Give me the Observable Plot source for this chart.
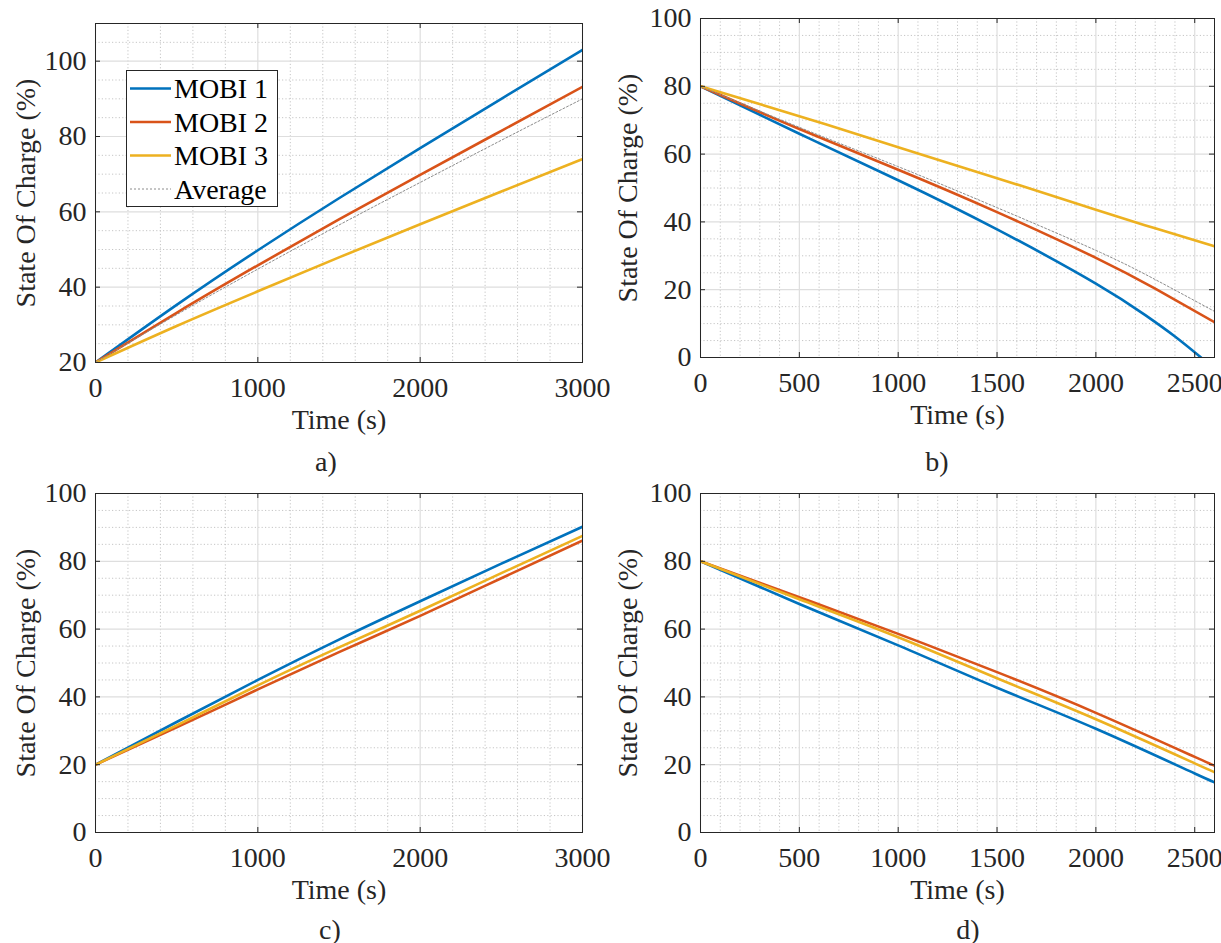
<!DOCTYPE html>
<html>
<head>
<meta charset="utf-8">
<script src="https://cdn.jsdelivr.net/npm/d3@7"></script>
<script src="https://cdn.jsdelivr.net/npm/@observablehq/plot@0.6"></script>
<style>
  html, body { margin: 0; padding: 0; background: #fff; overflow: hidden; }
  #root { position: relative; width: 1221px; height: 943px; font-family: "Liberation Serif", "Times New Roman", serif; color: #262626; }
  .panel { position: absolute; }
  .panel svg { overflow: visible; font-family: "Liberation Serif", "Times New Roman", serif !important; }
  .panel svg text { font-family: "Liberation Serif", "Times New Roman", serif !important; font-size: 28px; }
  .cap { position: absolute; font-size: 28px; line-height: 1; transform: translate(-50%, -50%); white-space: nowrap; }
  #legend { position: absolute; left: 0; top: 0; overflow: visible; }
</style>
</head>
<body>
<div id="root"></div>
<script>
// ---------- Legend ----------
const seriesNames = ["MOBI 1", "MOBI 2", "MOBI 3", "Average"];
const seriesColors = ["#0072BD", "#D95319", "#EDB120", "#8c8c8c"];

// ---------- Panel a) charging ----------
const timeA   = [0, 500, 1000, 1500, 2000, 2500, 3000];
const mobi1A  = [20, 35.3, 49.8, 63.6, 76.9, 90.0, 103.0];
const mobi2A  = [20, 33.2, 45.8, 58.0, 69.8, 81.5, 93.2];
const mobi3A  = [20, 29.7, 38.9, 47.9, 56.7, 65.4, 74.0];
const averageA= [20, 32.7, 44.8, 56.5, 67.8, 79.0, 90.0];

// ---------- Panel b) discharging ----------
const timeB1  = [0, 500, 1000, 1500, 2000, 2250, 2400, 2532];
const mobi1B  = [80, 66.0, 52.3, 37.8, 21.8, 12.5, 6.2, 0];
const timeB   = [0, 500, 1000, 1500, 2000, 2300, 2600];
const mobi2B  = [80, 67.4, 55.4, 42.9, 29.4, 20.3, 10.4];
const mobi3B  = [80, 71.2, 62.0, 52.9, 43.6, 38.1, 32.8];
const averageB= [80, 67.9, 56.3, 44.2, 31.6, 23.0, 13.6];

// ---------- Panel c) charging ----------
const timeC   = [0, 500, 1000, 1500, 2000, 2500, 3000];
const mobi1C  = [20, 32.6, 45.0, 56.9, 68.2, 79.3, 90.2];
const mobi2C  = [20, 31.0, 42.2, 53.2, 63.9, 75.0, 86.1];
const mobi3C  = [20, 31.6, 43.4, 54.6, 65.4, 76.5, 87.5];

// ---------- Panel d) discharging ----------
const timeD   = [0, 500, 1000, 1500, 2000, 2500, 2600];
const mobi1D  = [80, 67.4, 55.2, 42.7, 30.6, 17.4, 14.9];
const mobi2D  = [80, 69.4, 58.6, 47.3, 35.3, 22.3, 19.7];
const mobi3D  = [80, 68.8, 57.6, 45.5, 33.4, 20.4, 17.8];

// ---------- Tick values ----------
const xTicks3000 = [0, 1000, 2000, 3000];
const xTicks2600 = [0, 500, 1000, 1500, 2000, 2500];
const yTicksA = [20, 40, 60, 80, 100];
const yTicks100 = [0, 20, 40, 60, 80, 100];

const xLabel = "Time (s)";
const yLabel = "State Of Charge (%)";
const captions = ["a)", "b)", "c)", "d)"];

const axisColor = "#262626";
const fontFamily = "Liberation Serif";

function minorTicks(lo, hi, step, majors) {
  return d3.range(lo, hi + 1e-9, step).filter(v => !majors.includes(v));
}

function panel(cfg) {
  const {width, height, mt, mr, mb, ml, xDomain, yDomain, xTicks, yTicks, xStep, yStep, series, yLabelDx} = cfg;
  const fw = width - ml - mr, fh = height - mt - mb;
  const tickLen = 5;
  const xMinor = minorTicks(xDomain[0], xDomain[1], xStep, xTicks);
  const yMinor = minorTicks(yDomain[0], yDomain[1], yStep, yTicks);
  const txt = {fontFamily, fontSize: 28, fill: axisColor};
  return Plot.plot({
    width, height,
    marginTop: mt, marginRight: mr, marginBottom: mb, marginLeft: ml,
    style: {fontFamily, fontSize: "28px", color: axisColor, background: "white", overflow: "visible"},
    x: {domain: xDomain},
    y: {domain: yDomain},
    marks: [
      Plot.gridX(xMinor, {stroke: "#bfbfbf", strokeOpacity: 1, strokeWidth: 0.9, strokeDasharray: "1.2,2.2"}),
      Plot.gridY(yMinor, {stroke: "#bfbfbf", strokeOpacity: 1, strokeWidth: 0.9, strokeDasharray: "1.2,2.2"}),
      Plot.gridX(xTicks, {stroke: "#dedede", strokeOpacity: 1, strokeWidth: 1.2}),
      Plot.gridY(yTicks, {stroke: "#dedede", strokeOpacity: 1, strokeWidth: 1.2}),
      ...series.map(s => Plot.line(s.y, {
        x: s.x, y: s.y, stroke: s.color, strokeWidth: s.width,
        strokeDasharray: s.dash, curve: "natural", clip: true
      })),
      Plot.frame({stroke: axisColor, strokeWidth: 1}),
      Plot.ruleX(xTicks, {insetTop: fh - tickLen, stroke: axisColor}),
      Plot.ruleX(xTicks, {insetBottom: fh - tickLen, stroke: axisColor}),
      Plot.ruleY(yTicks, {insetRight: fw - tickLen, stroke: axisColor}),
      Plot.ruleY(yTicks, {insetLeft: fw - tickLen, stroke: axisColor}),
      Plot.axisX(xTicks, {tickSize: 0, tickPadding: 15, label: null, tickFormat: d => String(d), ...txt}),
      Plot.axisY(yTicks, {tickSize: 0, tickPadding: 9, label: null, tickFormat: d => String(d), ...txt}),
      Plot.text([xLabel], {text: d => d, frameAnchor: "bottom", dy: 58, lineAnchor: "middle", ...txt}),
      Plot.text([yLabel], {text: d => d, frameAnchor: "left", dx: yLabelDx, rotate: -90, textAnchor: "middle", lineAnchor: "middle", ...txt})
    ]
  });
}

function mobiSeries(x, ys, withAvg) {
  const out = ys.slice(0, 3).map((y, i) => ({x: x[i], y, color: seriesColors[i], width: 2.6}));
  if (withAvg) out.push({x: x[3], y: ys[3], color: seriesColors[3], width: 1, dash: "2,2"});
  return out;
}

const root = document.getElementById("root");
function place(el, left, top) {
  const d = document.createElement("div");
  d.className = "panel";
  d.style.left = left + "px";
  d.style.top = top + "px";
  d.appendChild(el);
  root.appendChild(d);
}

// a)
place(panel({
  width: 610, height: 470, mt: 23, mr: 28, mb: 108, ml: 95,
  xDomain: [0, 3000], yDomain: [20, 110], xTicks: xTicks3000, yTicks: yTicksA, xStep: 200, yStep: 5,
  series: mobiSeries([timeA, timeA, timeA, timeA], [mobi1A, mobi2A, mobi3A, averageA], true),
  yLabelDx: -69
}), 0, 0);

// b)
place(panel({
  width: 611, height: 470, mt: 18, mr: 7, mb: 113, ml: 90,
  xDomain: [0, 2600], yDomain: [0, 100], xTicks: xTicks2600, yTicks: yTicks100, xStep: 100, yStep: 5,
  series: mobiSeries([timeB1, timeB, timeB, timeB], [mobi1B, mobi2B, mobi3B, averageB], true),
  yLabelDx: -72
}), 610, 0);

// c)
place(panel({
  width: 610, height: 473, mt: 23, mr: 28, mb: 111, ml: 95,
  xDomain: [0, 3000], yDomain: [0, 100], xTicks: xTicks3000, yTicks: yTicks100, xStep: 200, yStep: 5,
  series: mobiSeries([timeC, timeC, timeC], [mobi1C, mobi2C, mobi3C], false),
  yLabelDx: -69
}), 0, 470);

// d)
place(panel({
  width: 611, height: 473, mt: 23, mr: 7, mb: 111, ml: 90,
  xDomain: [0, 2600], yDomain: [0, 100], xTicks: xTicks2600, yTicks: yTicks100, xStep: 100, yStep: 5,
  series: mobiSeries([timeD, timeD, timeD], [mobi1D, mobi2D, mobi3D], false),
  yLabelDx: -72
}), 610, 470);

// Captions
const capPos = [[326, 462], [937, 462], [330, 930], [968, 930]];
captions.forEach((c, i) => {
  const d = document.createElement("div");
  d.className = "cap";
  d.textContent = c;
  d.style.left = capPos[i][0] + "px";
  d.style.top = capPos[i][1] + "px";
  root.appendChild(d);
});

// Legend (panel a)
const leg = d3.select(root).append("svg").attr("id", "legend").attr("width", 300).attr("height", 220);
leg.append("rect").attr("x", 126.5).attr("y", 70.5).attr("width", 151).attr("height", 136)
  .attr("fill", "white").attr("stroke", axisColor).attr("stroke-width", 1);
const rows = leg.selectAll("g.row").data(seriesNames).join("g").attr("class", "row")
  .attr("transform", (d, i) => `translate(0, ${88.5 + i * 33.5})`);
rows.append("line").attr("x1", 130).attr("x2", 171).attr("y1", 0).attr("y2", 0)
  .attr("stroke", (d, i) => seriesColors[i])
  .attr("stroke-width", (d, i) => i < 3 ? 2.6 : 1)
  .attr("stroke-dasharray", (d, i) => i < 3 ? null : "2,2");
rows.append("text").attr("x", 174).attr("y", 0).attr("dy", "0.34em")
  .attr("font-family", "Liberation Serif").attr("font-size", 28).attr("fill", "#000")
  .text(d => d);
</script>
</body>
</html>
